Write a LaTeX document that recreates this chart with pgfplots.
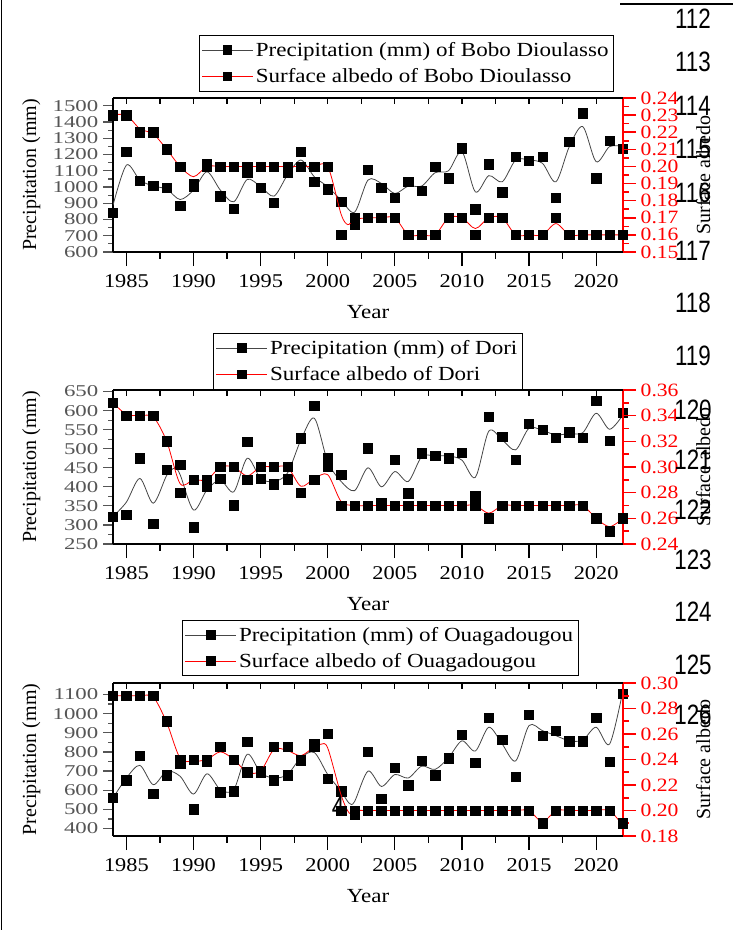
\documentclass[border=0pt]{standalone}
\usepackage{fontspec}
\setmainfont{Liberation Serif}
\newfontfamily\wfont{Liberation Serif}[FakeStretch=1.15]
\newfontfamily\lfont{Liberation Serif}[FakeStretch=1.38]
\newfontfamily\numfont{Liberation Sans}[FakeStretch=0.8]
\usepackage{pgfplots}
\usepackage{pgfplotstable}
\pgfplotsset{compat=1.18}
\definecolor{tickgray}{RGB}{85,85,85}
\definecolor{linegray}{RGB}{70,70,70}

\pgfplotstableread{
year P A
1984 841 0.23
1985 1218 0.23
1986 1037 0.22
1987 1006 0.22
1988 995 0.21
1989 884 0.20
1990 1000 0.19
1991 1140 0.20
1992 944 0.20
1993 866 0.20
1994 1088 0.20
1995 995 0.20
1996 903 0.20
1997 1088 0.20
1998 1218 0.20
1999 1032 0.20
2000 987 0.20
2001 909 0.16
2002 771 0.17
2003 1105 0.17
2004 997 0.17
2005 934 0.17
2006 1032 0.16
2007 975 0.16
2008 1125 0.16
2009 1053 0.17
2010 1238 0.17
2011 864 0.16
2012 1140 0.17
2013 967 0.17
2014 1187 0.16
2015 1160 0.16
2016 1187 0.16
2017 934 0.17
2018 1280 0.16
2019 1455 0.16
2020 1053 0.16
2021 1284 0.16
2022 1234 0.16
}\bobo

\pgfplotstableread{
year P A
1984 322 0.35
1985 326 0.34
1986 475 0.34
1987 303 0.34
1988 444 0.32
1989 457 0.28
1990 294 0.29
1991 400 0.29
1992 422 0.30
1993 352 0.30
1994 519 0.29
1995 422 0.30
1996 407 0.30
1997 420 0.30
1998 527 0.28
1999 613 0.29
2000 475 0.30
2001 431 0.27
2002 350 0.27
2003 501 0.27
2004 358 0.27
2005 471 0.27
2006 383 0.27
2007 488 0.27
2008 481 0.27
2009 475 0.27
2010 490 0.27
2011 376 0.27
2012 583 0.26
2013 532 0.27
2014 471 0.27
2015 565 0.27
2016 549 0.27
2017 529 0.27
2018 543 0.27
2019 529 0.27
2020 626 0.26
2021 521 0.25
2022 595 0.26
}\dori

\pgfplotstableread{
year P A
1984 559 0.29
1985 652 0.29
1986 779 0.29
1987 582 0.29
1988 679 0.27
1989 740 0.24
1990 500 0.24
1991 750 0.24
1992 590 0.25
1993 594 0.24
1994 853 0.23
1995 700 0.23
1996 652 0.25
1997 679 0.25
1998 755 0.24
1999 840 0.25
2000 661 0.26
2001 594 0.20
2002 475 0.20
2003 802 0.20
2004 557 0.20
2005 717 0.20
2006 626 0.20
2007 753 0.20
2008 679 0.20
2009 767 0.20
2010 890 0.20
2011 744 0.20
2012 978 0.20
2013 864 0.20
2014 670 0.20
2015 994 0.20
2016 885 0.19
2017 911 0.20
2018 855 0.20
2019 855 0.20
2020 978 0.20
2021 747 0.20
2022 1105 0.19
}\ouaga

\pgfplotsset{
  panel/.style={scale only axis, width=382.5pt, xmin=1984, xmax=2022,
    /pgf/number format/assume math mode=true,
    /pgf/number format/1000 sep={}, scaled ticks=false},
  leftax/.style={panel, axis y line*=left, axis x line=none, tick align=outside,
    major tick length=7.5pt, minor tick length=3.75pt, minor y tick num=1,
    y axis line style={black, line width=0.9pt},
    ytick style={tickgray, line width=0.9pt},
    yticklabel style={font=\lfont\fontsize{12.4}{14}\selectfont, text=tickgray},
    ylabel={Precipitation (mm)},
    ylabel style={at={(axis description cs:-0.16,0.5)}, anchor=center,
      font=\fontsize{15}{18}\selectfont}},
  rightax/.style={panel, axis y line*=right, axis x line=none, tick align=outside,
    major tick length=9.75pt, minor tick length=4.5pt, minor y tick num=1,
    y axis line style={red, line width=1.5pt},
    ytick style={red, line width=1.2pt},
    yticklabel style={font=\wfont\fontsize{14.1}{16}\selectfont, text=red,
      /pgf/number format/.cd, fixed, fixed zerofill, precision=2},
    ylabel={Surface albedo},
    ylabel style={at={(axis description cs:1.157,0.5)}, anchor=center,
      font=\fontsize{15}{18}\selectfont},
    legend cell align=left,
    legend image code/.code={\draw[mark repeat=2,mark phase=2,##1] plot coordinates {(0pt,0pt) (19pt,0pt) (38pt,0pt)};}},
  botax/.style={panel, axis x line*=bottom, axis y line=none, ymin=0, ymax=1,
    tick align=outside, xtick={1985,1990,...,2020}, minor x tick num=1,
    major tick length=10.5pt, minor tick length=5pt,
    x axis line style={black, line width=0.9pt},
    xtick style={black, line width=0.9pt},
    xticklabel style={font=\wfont\fontsize{14.6}{16}\selectfont, text=black, yshift=-3pt},
    xlabel={Year},
    xlabel style={at={(axis description cs:0.5,-0.39)}, anchor=center,
      font=\wfont\fontsize{15}{18}\selectfont}},
  topax/.style={panel, axis x line*=top, axis y line=none, ymin=0, ymax=1,
    tick align=inside, xtick={1985,1987.5,...,2021}, xticklabels={},
    major tick length=4.5pt,
    x axis line style={black, line width=0.9pt},
    xtick style={black, line width=0.9pt}},
  pline/.style={linegray, line width=0.6pt, smooth, tension=0.5, mark=none},
  aline/.style={red, line width=0.6pt, smooth, tension=0.5, mark=none},
  sq/.style={only marks, mark=square*, mark size=3.5pt, black},
  lgd/.style={legend style={at={(axis description cs:#1)}, anchor=north west,
    draw=black, line width=0.6pt, font=\wfont\fontsize{15}{17}\selectfont,
    inner xsep=2pt, inner ysep=3pt, row sep=3.5pt}},
}

\begin{document}
\begin{tikzpicture}
\useasboundingbox (0,0) rectangle (549.75pt,-697.5pt);

% ================= Panel 1: Bobo Dioulasso =================
\begin{axis}[leftax, height=115.5pt, at={(84.75pt,-73.5pt)}, anchor=north west,
  ymin=600, ymax=1548, ytick={600,700,...,1500}]
\addplot[pline] coordinates {(1984,888)(1985,1135)(1986,1043)(1987,1006)(1988,987)(1989,923)(1990,981)(1991,1094)(1992,981)(1993,909)(1994,1047)(1995,1002)(1996,944)(1997,1074)(1998,1166)(1999,1063)(2000,1002)(2001,919)(2002,845)(2003,1043)(2004,1022)(2005,960)(2006,1006)(2007,1006)(2008,1088)(2009,1100)(2010,1218)(2011,970)(2012,1070)(2013,1032)(2014,1166)(2015,1166)(2016,1146)(2017,1032)(2018,1249)(2019,1372)(2020,1156)(2021,1249)(2022,1249)};
\addplot[sq] table[x=year,y=P]{\bobo};
\end{axis}
\begin{axis}[rightax, height=115.5pt, at={(84.75pt,-73.5pt)}, anchor=north west,
  ymin=0.15, ymax=0.24, ytick={0.15,0.16,0.17,0.18,0.19,0.20,0.21,0.22,0.23,0.24},
  lgd={0.168,1.409}]
\addlegendimage{linegray, line width=0.6pt, mark=square*, mark size=3.2pt, mark options={black}}
\addlegendentry{Precipitation (mm) of Bobo Dioulasso}
\addlegendimage{red, line width=0.6pt, mark=square*, mark size=3.2pt, mark options={black}}
\addlegendentry{Surface albedo of Bobo Dioulasso}
\addplot[aline, forget plot] coordinates {(1984,0.230)(1985,0.230)(1986,0.222)(1987,0.219)(1988,0.210)(1989,0.200)(1990,0.194)(1991,0.200)(1992,0.200)(1993,0.200)(1994,0.200)(1995,0.200)(1996,0.200)(1997,0.200)(1998,0.200)(1999,0.200)(2000,0.200)(2001,0.172)(2001.5,0.166)(2002,0.169)(2003,0.170)(2004,0.170)(2005,0.170)(2006,0.160)(2007,0.160)(2008,0.160)(2009,0.170)(2010,0.170)(2011,0.1637)(2012,0.170)(2013,0.170)(2014,0.160)(2015,0.160)(2016,0.160)(2017,0.1666)(2018,0.160)(2019,0.160)(2020,0.160)(2021,0.160)(2022,0.160)};
\addplot[sq, forget plot] table[x=year,y=A]{\bobo};
\end{axis}
\begin{axis}[botax, height=115.5pt, at={(84.75pt,-73.5pt)}, anchor=north west]
\end{axis}
\begin{axis}[topax, height=115.5pt, at={(84.75pt,-73.5pt)}, anchor=north west]
\end{axis}

% ================= Panel 2: Dori =================
\begin{axis}[leftax, height=115.5pt, at={(84.75pt,-292.5pt)}, anchor=north west,
  ymin=250, ymax=654, ytick={250,300,...,650}]
\addplot[pline] coordinates {(1984,322)(1985,360)(1986,422)(1987,357)(1988,430)(1988.6,449)(1989,432)(1990,339)(1991,392)(1992,418)(1993,387)(1994,475)(1995,422)(1996,414)(1997,436)(1998,523)(1999,580)(2000,466)(2001,414)(2002,390)(2003,450)(2004,400)(2005,440)(2006,414)(2007,479)(2008,481)(2009,481)(2010,470)(2011,425)(2012,546)(2013,523)(2014,497)(2015,554)(2016,548)(2017,536)(2018,540)(2019,542)(2020,593)(2021,551)(2022,589)};
\addplot[sq] table[x=year,y=P]{\dori};
\end{axis}
\begin{axis}[rightax, height=115.5pt, at={(84.75pt,-292.5pt)}, anchor=north west,
  ymin=0.24, ymax=0.36, ytick={0.24,0.26,0.28,0.30,0.32,0.34,0.36},
  lgd={0.196,1.370}]
\addlegendimage{linegray, line width=0.6pt, mark=square*, mark size=3.2pt, mark options={black}}
\addlegendentry{Precipitation (mm) of Dori}
\addlegendimage{red, line width=0.6pt, mark=square*, mark size=3.2pt, mark options={black}}
\addlegendentry{Surface albedo of Dori}
\addplot[aline, forget plot] coordinates {(1984,0.350)(1985,0.341)(1986,0.340)(1987,0.339)(1988,0.320)(1989,0.287)(1990,0.290)(1991,0.290)(1992,0.300)(1993,0.300)(1994,0.293)(1995,0.300)(1996,0.300)(1997,0.300)(1998,0.285)(1999,0.291)(2000,0.294)(2001,0.273)(2002,0.270)(2003,0.270)(2004,0.270)(2005,0.270)(2006,0.270)(2007,0.270)(2008,0.270)(2009,0.270)(2010,0.270)(2011,0.270)(2012,0.264)(2013,0.270)(2014,0.270)(2015,0.270)(2016,0.270)(2017,0.270)(2018,0.270)(2019,0.270)(2020,0.260)(2021,0.2535)(2022,0.260)};
\addplot[sq, forget plot] table[x=year,y=A]{\dori};
\end{axis}
\begin{axis}[botax, height=115.5pt, at={(84.75pt,-292.5pt)}, anchor=north west]
\end{axis}
\begin{axis}[topax, height=115.5pt, at={(84.75pt,-292.5pt)}, anchor=north west]
\end{axis}

% ================= Panel 3: Ouagadougou =================
\begin{axis}[leftax, height=114.75pt, at={(84.75pt,-512.25pt)}, anchor=north west,
  ymin=361, ymax=1160, ytick={400,500,...,1100}]
\addplot[pline] coordinates {(1984,559)(1985,664)(1986,730)(1987,629)(1988,700)(1989,673)(1990,580)(1991,686)(1992,603)(1993,603)(1994,788)(1995,691)(1996,664)(1997,682)(1998,770)(1999,797)(2000,682)(2001,594)(2001.6,532)(2002,541)(2003,700)(2004,620)(2005,682)(2006,664)(2007,726)(2008,709)(2009,770)(2010,858)(2011,805)(2012,929)(2013,841)(2014,753)(2015,938)(2016,911)(2017,885)(2018,858)(2019,862)(2020,929)(2021,841)(2022,1123)};
\addplot[sq] table[x=year,y=P]{\ouaga};
\end{axis}
\begin{axis}[rightax, height=114.75pt, at={(84.75pt,-512.25pt)}, anchor=north west,
  ymin=0.18, ymax=0.30, ytick={0.18,0.20,0.22,0.24,0.26,0.28,0.30},
  lgd={0.135,1.412}]
\addlegendimage{linegray, line width=0.6pt, mark=square*, mark size=3.2pt, mark options={black}}
\addlegendentry{Precipitation (mm) of Ouagadougou}
\addlegendimage{red, line width=0.6pt, mark=square*, mark size=3.2pt, mark options={black}}
\addlegendentry{Surface albedo of Ouagadougou}
\addplot[aline, forget plot] coordinates {(1984,0.290)(1985,0.290)(1986,0.290)(1987,0.289)(1988,0.269)(1989,0.241)(1990,0.2387)(1991,0.240)(1992,0.246)(1993,0.240)(1994,0.230)(1995,0.231)(1996,0.248)(1997,0.247)(1998,0.243)(1999,0.250)(1999.5,0.252)(2000,0.249)(2001,0.212)(2001.6,0.198)(2002,0.200)(2003,0.200)(2004,0.200)(2005,0.200)(2006,0.200)(2007,0.200)(2008,0.200)(2009,0.200)(2010,0.200)(2011,0.200)(2012,0.200)(2013,0.200)(2014,0.200)(2015,0.200)(2016,0.191)(2017,0.200)(2018,0.200)(2019,0.200)(2020,0.200)(2021,0.200)(2022,0.188)};
\addplot[sq, forget plot] table[x=year,y=A]{\ouaga};
\end{axis}
\begin{axis}[botax, height=114.75pt, at={(84.75pt,-512.25pt)}, anchor=north west]
\end{axis}
\begin{axis}[topax, height=114.75pt, at={(84.75pt,-512.25pt)}, anchor=north west]
\end{axis}

% page decorations: frame lines and line numbers
\draw[black, line width=0.8pt] (1.2pt,0) -- (1.2pt,-697.5pt);
\draw[black, line width=0.8pt] (465pt,-3pt) -- (549.75pt,-3pt);
\foreach \n/\y in {112/-14.25,113/-46.5,114/-79.5,115/-111.75,116/-144.75,117/-188.25,118/-227.25,119/-267,120/-307.5,121/-345,122/-382.5,123/-420,124/-459,125/-498.75,126/-536.25}
  \node[font=\numfont\fontsize{21}{24}\selectfont, inner sep=0pt, anchor=center] at (519.75pt,\y pt) {\n};
\node[font=\numfont\fontsize{21}{24}\selectfont, inner sep=0pt, anchor=center] at (253.5pt,-605pt) {4};
\end{tikzpicture}
\end{document}
